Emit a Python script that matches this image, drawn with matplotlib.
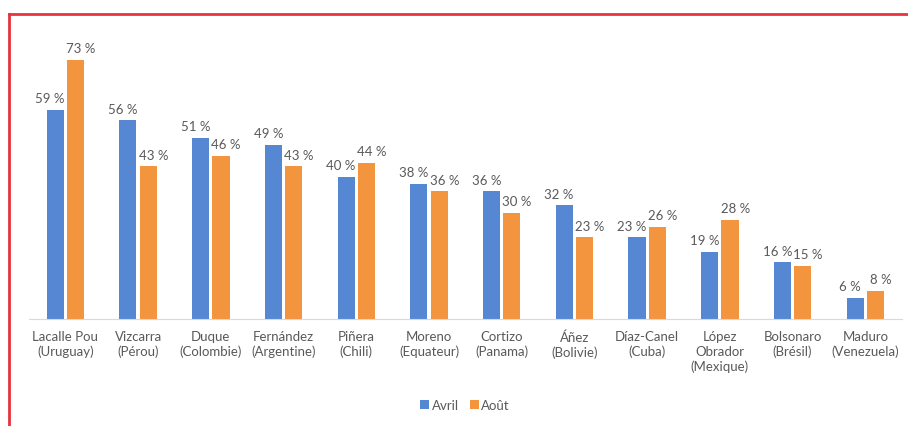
import numpy as np
import matplotlib.pyplot as plt
from matplotlib.lines import Line2D

plt.rcParams['font.family'] = ['Lato', 'DejaVu Sans']

leaders = ["Lacalle Pou\n(Uruguay)", "Vizcarra\n(Pérou)", "Duque\n(Colombie)",
           "Fernández\n(Argentine)", "Piñera\n(Chili)", "Moreno\n(Equateur)",
           "Cortizo\n(Panama)", "Áñez\n(Bolivie)", "Díaz-Canel\n(Cuba)",
           "López\nObrador\n(Mexique)", "Bolsonaro\n(Brésil)", "Maduro\n(Venezuela)"]
avril = [59, 56, 51, 49, 40, 38, 36, 32, 23, 19, 16, 6]
aout = [73, 43, 46, 43, 44, 36, 30, 23, 26, 28, 15, 8]

blue = '#5587D3'
orange = '#F3943F'
txt = '#595959'

fig = plt.figure(figsize=(9.08, 4.27), dpi=100)
ax = fig.add_axes([0.032, 1 - 320 / 427, 0.961, 284 / 427])

x = np.arange(len(leaders))
w = 0.235
off = 0.14
b1 = ax.bar(x - off, avril, w, color=blue, label='Avril')
b2 = ax.bar(x + off, aout, w, color=orange, label='Août')

# labels pushed a bit outward so neighbours don't collide
for xi, v in zip(x - off - 0.07, avril):
    ax.text(xi, v + 1.6, f"{v} %", ha='center', va='bottom', fontsize=9.5, color=txt)
for xi, v in zip(x + off + 0.07, aout):
    ax.text(xi, v + 1.6, f"{v} %", ha='center', va='bottom', fontsize=9.5, color=txt)

ax.set_xlim(-0.5, len(leaders) - 0.5)
ax.set_ylim(0, 80)
ax.set_xticks(x)
ax.set_xticklabels(leaders, fontsize=9.5, color=txt, linespacing=1.25)
ax.tick_params(axis='x', length=0, pad=8)
ax.set_yticks([])
for s in ['top', 'right', 'left']:
    ax.spines[s].set_visible(False)
ax.spines['bottom'].set_color('#D9D9D9')

fig.legend(handles=[b1, b2], loc='center', bbox_to_anchor=(465 / 908, 1 - 406 / 427),
           ncol=2, frameon=False, fontsize=9.5, handlelength=0.7, handleheight=0.7,
           handletextpad=0.2, columnspacing=0.8, labelcolor=txt)

# red frame (left and top edges)
fig.add_artist(Line2D([9 / 908, 9 / 908], [0, 1 - 15 / 427], transform=fig.transFigure,
                      color='#E8333D', lw=2))
fig.add_artist(Line2D([9 / 908, 1], [1 - 15 / 427, 1 - 15 / 427], transform=fig.transFigure,
                      color='#E8333D', lw=2))

fig.savefig('out.png', dpi=100)
